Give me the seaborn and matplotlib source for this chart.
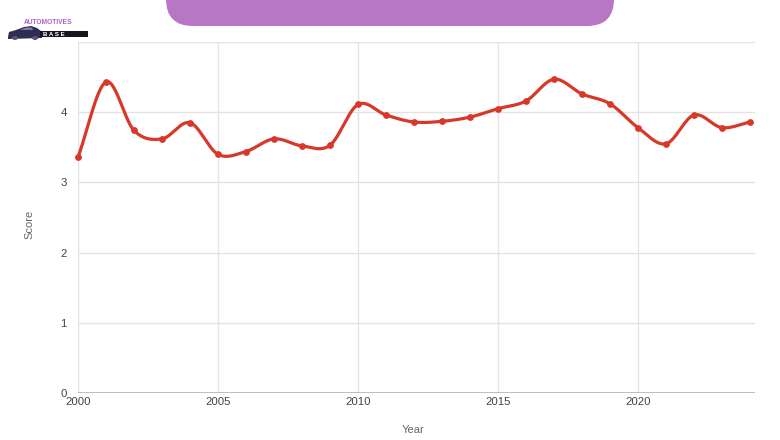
import numpy as np
import pandas as pd
import matplotlib
matplotlib.use("Agg")
import matplotlib.pyplot as plt
import seaborn as sns
from matplotlib.patches import FancyBboxPatch, Polygon, Rectangle, Ellipse

# ---- data ----
years = list(range(2000, 2025))
scores = [3.36, 4.43, 3.74, 3.62, 3.85, 3.40, 3.44, 3.62, 3.52, 3.53,
          4.11, 3.96, 3.86, 3.87, 3.93, 4.05, 4.16, 4.47, 4.26, 4.12,
          3.78, 3.55, 3.96, 3.78, 3.86]
x_ticks = [2000, 2005, 2010, 2015, 2020]
y_ticks = [0, 1, 2, 3, 4]
y_grid = [1, 2, 3, 4, 5]

df = pd.DataFrame({"Year": years, "Score": scores})

sns.set_theme(style="white")
plt.rcParams['font.family'] = ['Liberation Sans', 'DejaVu Sans']

W, H = 780, 440
fig = plt.figure(figsize=(W / 100, H / 100), dpi=100)
ax = fig.add_axes([78 / W, 1 - 393 / H, (755 - 78) / W, (393 - 42) / H])

# smooth curve (cubic Hermite rendering of the line through the points)
xv = np.array(years, dtype=float)
yv = np.array(scores, dtype=float)
n = len(xv)
m = np.zeros(n)
m[1:-1] = (yv[2:] - yv[:-2]) / (xv[2:] - xv[:-2])
m[0] = (yv[1] - yv[0]) / (xv[1] - xv[0])
m[-1] = (yv[-1] - yv[-2]) / (xv[-1] - xv[-2])
xs, ys = [], []
for i in range(n - 1):
    h = xv[i + 1] - xv[i]
    t = np.linspace(0, 1, 30, endpoint=(i == n - 2))
    h00 = 2 * t**3 - 3 * t**2 + 1
    h10 = t**3 - 2 * t**2 + t
    h01 = -2 * t**3 + 3 * t**2
    h11 = t**3 - t**2
    xs.append(xv[i] + t * h)
    ys.append(h00 * yv[i] + h10 * h * m[i] + h01 * yv[i + 1] + h11 * h * m[i + 1])
xs = np.concatenate(xs)
ys = np.concatenate(ys)

red = "#d8382a"
ax.plot(xs, ys, color=red, lw=2.3, zorder=4, solid_capstyle="round", clip_on=False)
sns.scatterplot(data=df, x="Year", y="Score", ax=ax, color=red, s=24,
                edgecolor=red, linewidth=0, zorder=5, legend=False, clip_on=False)

# grid
for yg in y_grid:
    ax.axhline(yg, color="#e3e3e3", lw=1, zorder=1)
for xg in x_ticks:
    ax.axvline(xg, color="#e3e3e3", lw=1, zorder=1)
ax.axhline(0, color="#aaaaaa", lw=1.8, zorder=3, xmin=-0.007)

ax.set_xlim(2000, 2024.18)
ax.set_ylim(0, 5)
ax.set_xticks(x_ticks)
ax.set_xticklabels([str(v) for v in x_ticks])
ax.set_yticks(y_ticks)
ax.set_yticklabels([str(v) for v in y_ticks])
ax.tick_params(axis="both", length=0, labelsize=8.2, colors="#444444")
ax.tick_params(axis="y", pad=8)
ax.tick_params(axis="x", pad=3)
for s in ax.spines.values():
    s.set_visible(False)
ax.set_xlabel("")
ax.set_ylabel("")

fig.text(413 / W, 1 - 430 / H, "Year", ha="center", va="center",
         fontsize=8, color="#666666")
fig.text(29 / W, 1 - 224 / H, "Score", ha="center", va="center",
         fontsize=8, color="#666666", rotation=90)

# overlay for decorations (pixel coordinates)
ov = fig.add_axes([0, 0, 1, 1], zorder=-1)
ov.set_xlim(0, W)
ov.set_ylim(H, 0)
ov.axis("off")
ov.patch.set_alpha(0)

box = FancyBboxPatch((166, -60), 448, 86, boxstyle="round,pad=0,rounding_size=27",
                     fc="#b777c4", ec="none")
ov.add_patch(box)

# logo approximation
car = Polygon([(8, 37), (9, 32), (16, 30), (24, 27), (31, 26), (37, 28), (41, 31),
               (42, 38), (8, 39)], closed=True, fc="#2e2d52", ec="none")
ov.add_patch(car)
ov.add_patch(Polygon([(20, 30), (26, 27.5), (32, 27.5), (33, 30)], closed=True,
                     fc="#7d7ca8", ec="none"))
ov.add_patch(Ellipse((15, 38), 6, 4, fc="#55557a", ec="none"))
ov.add_patch(Ellipse((35, 38), 6, 4, fc="#55557a", ec="none"))
ov.add_patch(Rectangle((40, 31.5), 48, 5.5, fc="#1a1320", ec="none"))
ov.text(48.5, 22, "AUTOMOTIVES", fontsize=4.8, color="#a862c9", ha="center",
        va="center", fontweight="bold")
ov.text(54, 34.3, "B A S E", fontsize=4.4, color="white", ha="center",
        va="center", fontweight="bold")

fig.savefig("out.png", dpi=100, facecolor="white")
